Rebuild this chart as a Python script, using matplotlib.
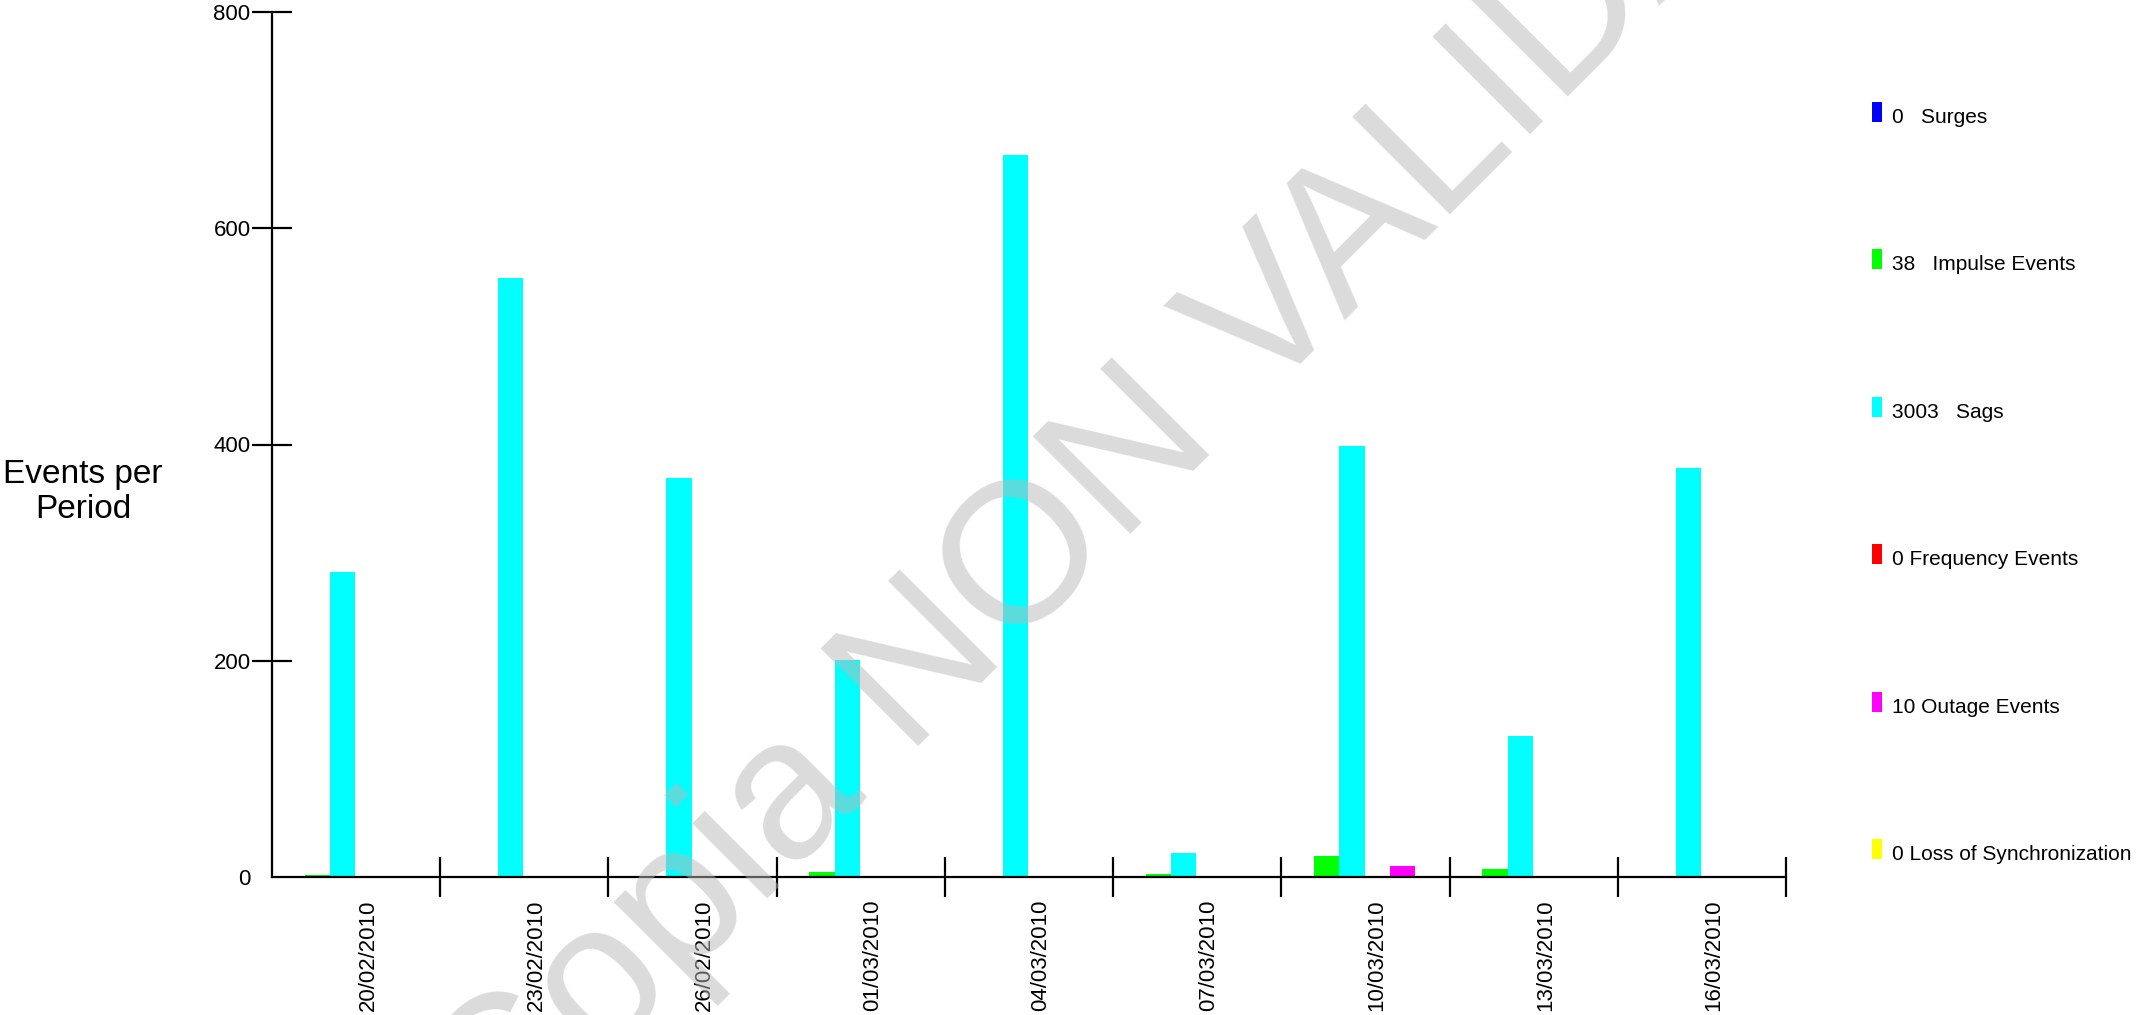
import numpy as np
import matplotlib
matplotlib.use("Agg")
import matplotlib.pyplot as plt
from matplotlib.patches import Rectangle

plt.rcParams['font.family'] = ['Liberation Sans', 'DejaVu Sans']

dates = ['20/02/2010', '23/02/2010', '26/02/2010', '01/03/2010', '04/03/2010',
         '07/03/2010', '10/03/2010', '13/03/2010', '16/03/2010']
surges = [0, 0, 0, 0, 0, 0, 0, 0, 0]
impulse = [2, 1, 0, 5, 0, 3, 19, 7, 1]
sags = [282, 554, 369, 201, 668, 22, 399, 130, 378]
frequency = [0, 0, 0, 0, 0, 0, 0, 0, 0]
outage = [0, 0, 0, 0, 0, 0, 10, 0, 0]
loss_sync = [0, 0, 0, 0, 0, 0, 0, 0, 0]

series = [surges, impulse, sags, frequency, outage, loss_sync]
colors = ['#0000ff', '#00ff00', '#00ffff', '#ff0000', '#ff00ff', '#ffff00']
legend_labels = ['0   Surges', '38   Impulse Events', '3003   Sags',
                 '0 Frequency Events', '10 Outage Events', '0 Loss of Synchronization']

W, H = 2149, 1015
fig = plt.figure(figsize=(W / 100, H / 100), dpi=100)
ax = fig.add_axes([272 / W, 1 - 877 / H, (1786 - 272) / W, (877 - 12) / H])

x = np.arange(len(dates))
bw = 0.15
for k, vals in enumerate(series):
    ax.bar(x + 0.045 + k * bw, vals, width=bw, align='edge', color=colors[k], linewidth=0)

ax.set_xlim(0, len(dates))
ax.set_ylim(0, 800)
for s in ['top', 'right']:
    ax.spines[s].set_visible(False)
for s in ['left', 'bottom']:
    ax.spines[s].set_linewidth(1.6)

# date labels sit slightly right of group centre, separators between groups
ax.set_xticks(x + 0.57)
ax.set_xticklabels(dates, rotation=90, va='top', ha='center')
ax.tick_params(axis='x', which='major', length=0, pad=16.5, labelsize=16)
ax.set_xticks(np.arange(1, len(dates) + 1), minor=True)
ax.tick_params(axis='x', which='minor', direction='inout', length=28.8, width=1.6)

ax.set_yticks([0, 200, 400, 600, 800])
ax.tick_params(axis='y', direction='inout', length=28.8, width=1.6, pad=1, labelsize=16)
ax.yaxis.get_major_ticks()[0].tick1line.set_visible(False)

fig.text(83 / W, 1 - 492 / H, 'Events per\nPeriod', ha='center', va='center',
         multialignment='center', fontsize=24)

# legend on the right
for i, (lab, c) in enumerate(zip(legend_labels, colors)):
    base = 123 + i * 147.4
    fig.patches.append(Rectangle((1872 / W, 1 - (base - 1) / H), 10 / W, 20 / H,
                                 transform=fig.transFigure, color=c, linewidth=0))
    fig.text(1892 / W, 1 - base / H, lab, ha='left', va='baseline', fontsize=15)

# watermark
fig.text(0.507, 0.505, 'Copia NON VALIDA', rotation=45, rotation_mode='anchor',
         ha='center', va='center', fontsize=144, color='#b8b8b8', alpha=0.5, zorder=10)

fig.savefig('out.png', dpi=100)
